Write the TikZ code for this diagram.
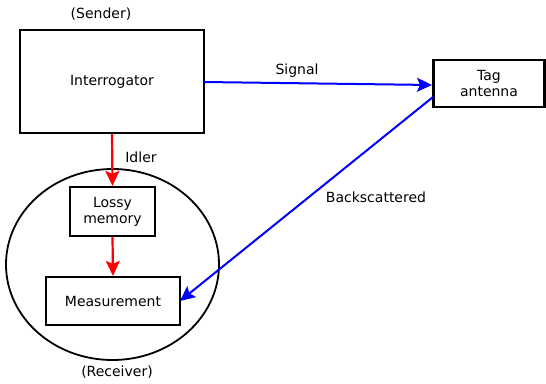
\documentclass[tikz,border=0pt]{standalone}
\usepackage{fontspec}
\setmainfont{DejaVu Sans}
\usetikzlibrary{arrows.meta,shapes.geometric}
\begin{document}
\begin{tikzpicture}[x=1pt,y=-1pt,
  box/.style={draw,line width=2.2pt,inner sep=0pt,align=center,font=\fontsize{14}{16}\selectfont},
  lbl/.style={inner sep=0pt,font=\fontsize{14}{16}\selectfont},
  bluearrow/.style={draw=blue,line width=2pt,-{Stealth[length=15pt,width=14pt,inset=3pt]}},
  redarrow/.style={draw=red,line width=2.2pt,-{Stealth[length=15pt,width=14pt,inset=3pt]}}]
\useasboundingbox (0,0) rectangle (546,383);
\node[draw,line width=1.8pt,ellipse,minimum width=213pt,minimum height=191pt,inner sep=0pt] (recv) at (112.5,264.5) {};
\node[box,minimum width=184pt,minimum height=103pt] (int) at (112,81.5) {Interrogator};
\node[box,minimum width=111pt,minimum height=47pt] (tag) at (489,83.5) {Tag\\antenna};
\node[box,minimum width=85pt,minimum height=49pt] (mem) at (112.5,211.5) {Lossy\\memory};
\node[box,minimum width=134pt,minimum height=48pt] (meas) at (113,301) {Measurement};
\node[lbl] (sender) at (101,14) {(Sender)};
\node[lbl] (receiver) at (117,372) {(Receiver)};
\node[lbl] (siglbl) at (297,71) {Signal};
\node[lbl] (idlbl) at (141,157) {Idler};
\node[lbl] (bslbl) at (376,197) {Backscattered};
\coordinate (sigstart) at (204,82);
\coordinate (sigend) at (432,85);
\coordinate (bsstart) at (433,97);
\coordinate (bsend) at (180,301);
\draw[bluearrow] (sigstart) -- (sigend);
\draw[bluearrow] (bsstart) -- (bsend);
\draw[redarrow] (int.south) -- (mem.north);
\draw[redarrow] (mem.south) -- (meas.north);
\end{tikzpicture}
\end{document}
